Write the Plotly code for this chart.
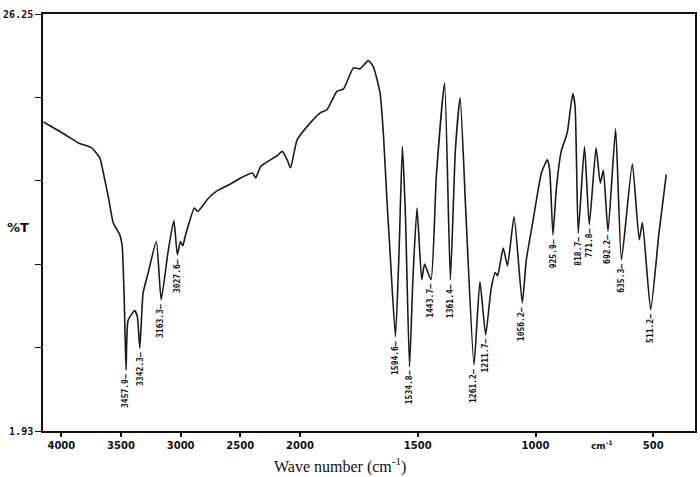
import numpy as np
import plotly.graph_objects as go

# ---- data ----
wavenumber = [4150, 3968, 3857, 3746, 3677, 3648, 3607, 3565, 3510, 3490, 3473, 3457.9, 3440, 3385, 3363,
              3342.3, 3315, 3273, 3204, 3163.3, 3107, 3057, 3027.6, 3002, 2982, 2962, 2885, 2857, 2773,
              2690, 2579, 2482, 2398, 2371, 2329, 2190, 2148, 2107, 2079, 2023, 1956, 1914, 1885, 1843,
              1815, 1773, 1745, 1710, 1689, 1660, 1646, 1630, 1618, 1594.6, 1579, 1565, 1552, 1534.8,
              1520, 1503, 1483, 1471, 1443.7, 1421, 1386, 1361.4, 1340, 1320, 1295, 1261.2, 1236, 1211.7,
              1189, 1171, 1161, 1137, 1119, 1091, 1056.2, 1039, 1010, 975, 950, 940, 925.9, 912, 891, 870,
              863, 842, 832, 818.7, 792, 771.8, 743, 725, 712, 692.2, 660, 635.3, 589, 560, 546, 511.2,
              476, 445]
transmittance = [19.95, 19.21, 18.73, 18.44, 17.85, 16.98, 15.61, 14.06, 13.37, 12.69, 9.58, 5.49, 8.41, 8.95,
                 8.60, 6.76, 9.97, 11.14, 12.98, 9.58, 12.31, 14.21, 12.21, 12.98, 12.73, 13.28, 14.93, 14.73,
                 15.46, 15.96, 16.35, 16.74, 16.98, 16.69, 17.36, 17.99, 18.24, 17.75, 17.27, 18.92, 19.90,
                 20.48, 20.67, 21.74, 21.88, 23.11, 23.05, 23.53, 23.20, 21.65, 19.31, 15.23, 12.50, 7.44,
                 12.50, 18.53, 14.44, 5.68, 10.94, 14.93, 10.75, 11.66, 10.75, 16.78, 22.23, 10.75, 18.34,
                 21.36, 14.44, 5.78, 10.65, 7.54, 10.16, 11.17, 10.98, 12.60, 11.56, 14.44, 9.40, 11.91,
                 14.25, 16.98, 17.75, 17.17, 13.37, 16.00, 18.24, 19.11, 19.51, 21.61, 20.87, 13.47, 18.53,
                 13.96, 18.44, 16.39, 17.13, 13.57, 19.55, 11.91, 17.52, 13.08, 14.09, 9.00, 13.47, 16.88]

peak_labels = [3457.9, 3342.3, 3163.3, 3027.6, 1594.6, 1534.8, 1443.7, 1361.4, 1261.2, 1211.7,
               1056.2, 925.9, 818.7, 771.8, 692.2, 635.3, 511.2]

x_tick_values = [4000, 3500, 3000, 2500, 2000, 1500, 1000, 500]
y_min, y_max = 1.93, 26.25


# IR chart convention: scale doubles below 2000 cm-1
def pos(wn):
    wn = np.asarray(wn, dtype=float)
    return np.where(wn >= 2000, 4000 - wn, 2000 + 1.975 * (2000 - wn))


wn_sorted = np.array(wavenumber)[::-1]
t_sorted = np.array(transmittance)[::-1]

fig = go.Figure()
fig.add_trace(go.Scatter(
    x=pos(wavenumber), y=transmittance, mode="lines",
    line=dict(color="#1a1a1a", width=1.6, shape="spline", smoothing=0.5),
    hoverinfo="skip", showlegend=False))

for p in peak_labels:
    fig.add_annotation(
        x=float(pos(p)), y=float(np.interp(p, wn_sorted, t_sorted)),
        text=f"{p:.1f}\u2014", textangle=-90, showarrow=False,
        xanchor="center", yanchor="top", yshift=-2,
        font=dict(family="DejaVu Sans Mono", size=8, color="#111", weight="bold"))

y_minor = list(np.linspace(y_min, y_max, 6))

fig.update_layout(
    width=700, height=477,
    margin=dict(l=41, r=3, t=14, b=46),
    paper_bgcolor="white", plot_bgcolor="white",
    xaxis=dict(
        range=[float(pos(4154)), float(pos(323))],
        tickvals=list(pos(x_tick_values)), ticktext=[str(v) for v in x_tick_values],
        ticks="outside", ticklen=4, tickwidth=1.5, tickcolor="#111",
        showgrid=False, zeroline=False,
        showline=True, linecolor="#111", linewidth=1.6, mirror=True,
        tickfont=dict(family="DejaVu Sans", size=10, color="#111", weight="bold")),
    yaxis=dict(
        range=[y_min, y_max],
        tickvals=[y_min, y_max], ticktext=[f"{y_min:.2f}", f"{y_max:.2f}"],
        ticks="outside", ticklen=6, tickwidth=1.2, tickcolor="#111",
        minor=dict(tickvals=y_minor, ticks="outside", ticklen=6, tickwidth=1.2, tickcolor="#111"),
        showgrid=False, zeroline=False,
        showline=True, linecolor="#111", linewidth=1.6, mirror=True,
        tickfont=dict(family="DejaVu Sans Mono", size=10, color="#111", weight="bold")),
)

fig.add_annotation(x=-0.058, y=0.487, xref="paper", yref="paper", text="%T", showarrow=False,
                   xanchor="left",
                   font=dict(family="DejaVu Sans", size=13, color="#111", weight="bold"))
fig.add_annotation(x=0.877, y=-0.034, xref="paper", yref="paper", text="cm<sup>-1</sup>",
                   showarrow=False, yanchor="middle",
                   font=dict(family="DejaVu Sans", size=9, color="#111", weight="bold"))
fig.add_annotation(x=0.456, y=-0.082, xref="paper", yref="paper",
                   text="Wave number (cm<sup>-1</sup>)", showarrow=False, yanchor="middle",
                   font=dict(family="Liberation Serif", size=16, color="#111"))

fig.write_html("out.html")
